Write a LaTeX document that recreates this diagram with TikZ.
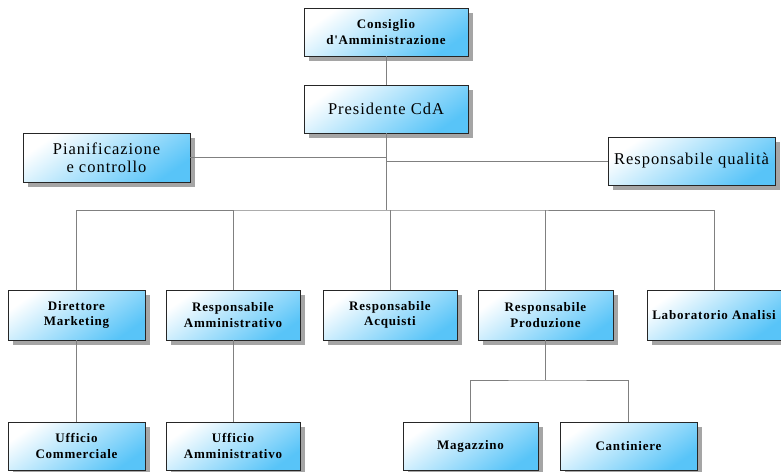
\documentclass[tikz,border=0pt]{standalone}
\usepackage{fontspec}
\setmainfont{Liberation Serif}
\newfontfamily\lblfont[LetterSpace=6]{Liberation Serif}
\usetikzlibrary{shadows}
\definecolor{boxblue}{RGB}{88,196,248}
\definecolor{shadowgray}{RGB}{165,165,165}
\definecolor{linegray}{RGB}{128,128,128}
\tikzset{
 orgbox/.style={draw=black!85, line width=0.8pt, top color=white, bottom color=boxblue, shading angle=35,
   drop shadow={shadow xshift=5pt, shadow yshift=-5pt, fill=shadowgray, opacity=1},
   align=center, inner sep=0pt},
 boldlbl/.style={font=\lblfont\bfseries\fontsize{13}{15.5}\selectfont},
 reglbl/.style={font=\lblfont\fontsize{16.5}{18}\selectfont},
 conn/.style={draw=linegray, line width=0.9pt}
}
\begin{document}
\begin{tikzpicture}[x=1pt,y=-1pt]
\useasboundingbox (0,0) rectangle (781,471);
% top
\node[orgbox,boldlbl,minimum width=164,minimum height=48] (cda) at (386,32) {Consiglio\\d'Amministrazione};
\node[orgbox,reglbl,minimum width=164,minimum height=48] (pres) at (386,109) {Presidente CdA};
\node[orgbox,reglbl,minimum width=167,minimum height=49] (pian) at (106.5,157.5) {Pianificazione\\e controllo};
\node[orgbox,reglbl,minimum width=167,minimum height=48] (qual) at (691.5,161) {Responsabile qualità};
% row 3
\node[orgbox,boldlbl,minimum width=137,minimum height=50] (dm) at (76.5,315) {Direttore\\Marketing};
\node[orgbox,boldlbl,minimum width=134,minimum height=50] (ra) at (233,315) {Responsabile\\Amministrativo};
\node[orgbox,boldlbl,minimum width=134,minimum height=50] (racq) at (390,315) {Responsabile\\Acquisti};
\node[orgbox,boldlbl,minimum width=135,minimum height=50] (rp) at (545.5,315) {Responsabile\\Produzione};
\node[orgbox,boldlbl,minimum width=134,minimum height=50] (lab) at (714,315) {Laboratorio Analisi};
% row 4
\node[orgbox,boldlbl,minimum width=137,minimum height=48] (uc) at (76.5,446) {Ufficio\\Commerciale};
\node[orgbox,boldlbl,minimum width=134,minimum height=48] (ua) at (233,446) {Ufficio\\Amministrativo};
\node[orgbox,boldlbl,minimum width=135,minimum height=48] (mag) at (470.5,446) {Magazzino};
\node[orgbox,boldlbl,minimum width=137,minimum height=48] (cant) at (628.5,446) {Cantiniere};
% connectors
\coordinate (bus) at (386,210);
\coordinate (pbus) at (545.5,380);
\draw[conn] (cda) -- (pres);
\draw[conn] (pres.south) -- (bus);
\draw[conn] (pian.east) -- (pian.east -| pres.south);
\draw[conn] (qual.west) -- (qual.west -| pres.south);
\draw[conn] (dm.north) |- (bus) -| (lab.north);
\draw[conn] (ra.north) -- (ra.north |- bus);
\draw[conn] (racq.north) -- (racq.north |- bus);
\draw[conn] (rp.north) -- (rp.north |- bus);
\draw[conn] (dm.south) -- (uc.north);
\draw[conn] (ra.south) -- (ua.north);
\draw[conn] (rp.south) -- (pbus);
\draw[conn] (mag.north) |- (pbus) -| (cant.north);
\end{tikzpicture}
\end{document}
